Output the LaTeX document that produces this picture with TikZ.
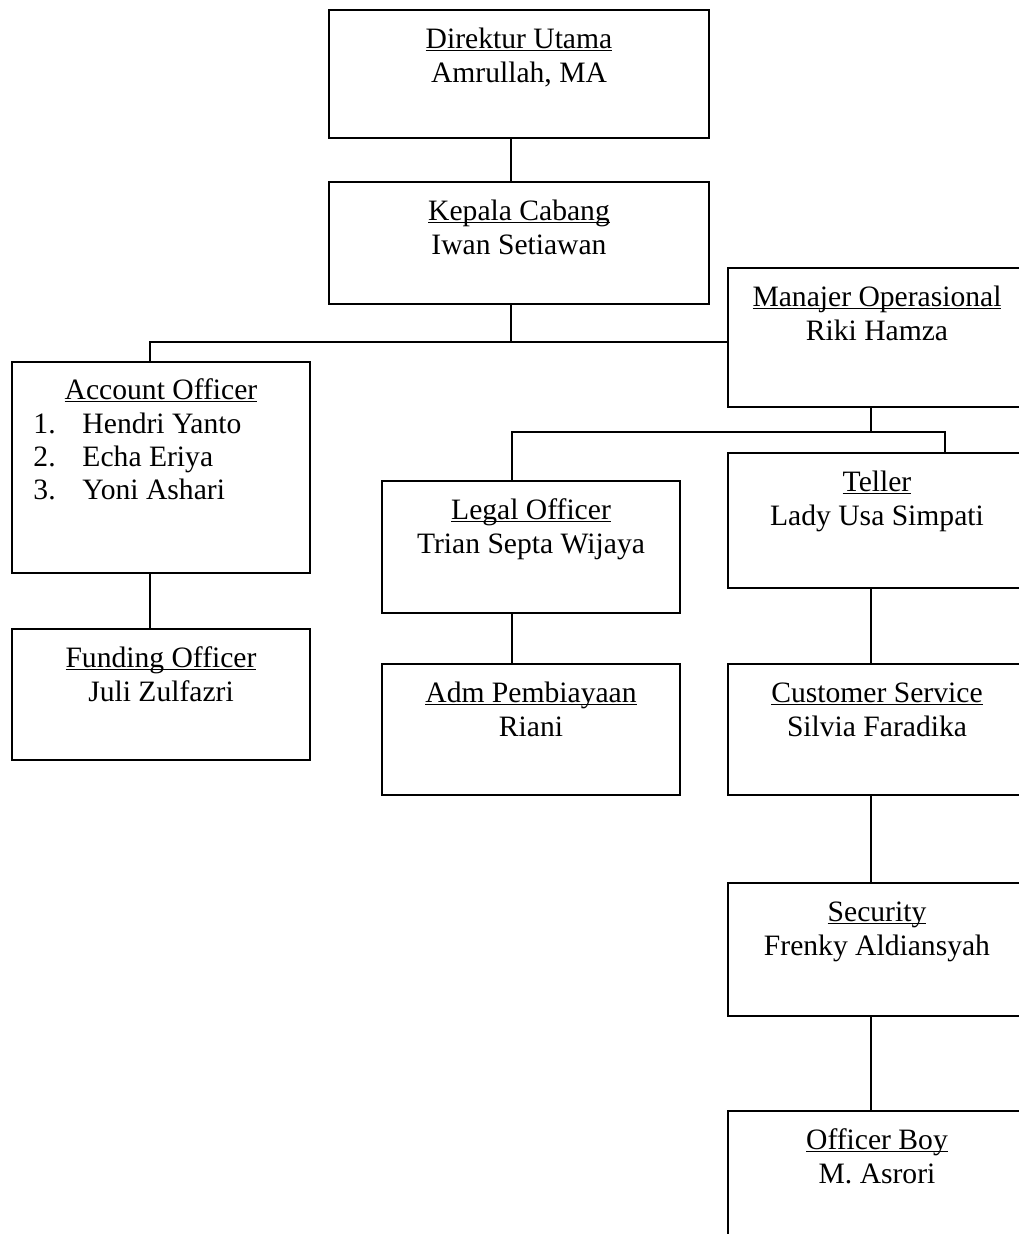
\documentclass[tikz,border=0pt]{standalone}
\usepackage{fontspec}
\setmainfont{Liberation Serif}
\usetikzlibrary{fit}
\newcommand\ulx[1]{\setbox0\hbox{#1}\rlap{\rule[-1.1pt]{\wd0}{0.55pt}}\box0}
\tikzset{
  orgbox/.style={draw, line width=0.85pt, inner sep=0pt},
  lbl/.style={inner sep=0pt, anchor=base, font=\fontsize{12pt}{13.6pt}\selectfont},
  lblw/.style={lbl, anchor=base west},
  link/.style={line width=0.85pt}
}
\newcommand\orgunit[7]{%
  \node[orgbox, fit={(#2,#3) (#4,#5)}] (#1) {};
  \node[lbl] (#1-t) at ([yshift=-16.1pt]#1.north) {\ulx{#6}};
  \node[lbl] (#1-n) at ([yshift=-29.9pt]#1.north) {#7};
}
\begin{document}
\begin{tikzpicture}[x=0.4055pt, y=-0.4055pt]
\clip (0,0) rectangle (1019,1234);
\fill[white] (0,0) rectangle (1019,1234);

\orgunit{dir}{329}{10}{709}{138}{Direktur Utama}{Amrullah, MA}
\orgunit{kep}{329}{182}{709}{304}{Kepala Cabang}{Iwan Setiawan}
\orgunit{mo}{728}{268}{1026}{407}{Manajer Operasional}{Riki Hamza}
\orgunit{fo}{12}{629}{310}{760}{Funding Officer}{Juli Zulfazri}
\orgunit{lo}{382}{481}{680}{613}{Legal Officer}{Trian Septa Wijaya}
\orgunit{tel}{728}{453}{1026}{588}{Teller}{Lady Usa Simpati}
\orgunit{adm}{382}{664}{680}{795}{Adm Pembiayaan}{Riani}
\orgunit{cs}{728}{664}{1026}{795}{Customer Service}{Silvia Faradika}
\orgunit{sec}{728}{883}{1026}{1016}{Security}{Frenky Aldiansyah}
\orgunit{ob}{728}{1111}{1026}{1300}{Officer Boy}{M. Asrori}

% Account Officer with list
\node[orgbox, fit={(12,362) (310,573)}] (ao) {};
\node[lbl] (ao-t) at ([yshift=-15.6pt]ao.north) {\ulx{Account Officer}};
\node[lblw] (ao-n1) at (33,433) {1.};
\node[lblw] (ao-p1) at (82,433) {Hendri Yanto};
\node[lblw] (ao-n2) at (33,466) {2.};
\node[lblw] (ao-p2) at (82,466) {Echa Eriya};
\node[lblw] (ao-n3) at (33,499) {3.};
\node[lblw] (ao-p3) at (82,499) {Yoni Ashari};

% connectors
\draw[link] (dir.south -| 511,0) -- (kep.north -| 511,0);
\draw[link] (kep.south -| 511,0) -- (511,342);
\draw[link] (ao.north -| 150,0) |- (mo.west |- 0,342);
\draw[link] (ao.south -| 150,0) -- (fo.north -| 150,0);
\draw[link] (mo.south -| 871,0) -- (871,432);
\draw[link] (lo.north -| 512,0) |- (945,432) -- (tel.north -| 945,0);
\draw[link] (lo.south -| 512,0) -- (adm.north -| 512,0);
\draw[link] (tel.south -| 871,0) -- (cs.north -| 871,0);
\draw[link] (cs.south -| 871,0) -- (sec.north -| 871,0);
\draw[link] (sec.south -| 871,0) -- (ob.north -| 871,0);
\end{tikzpicture}
\end{document}
